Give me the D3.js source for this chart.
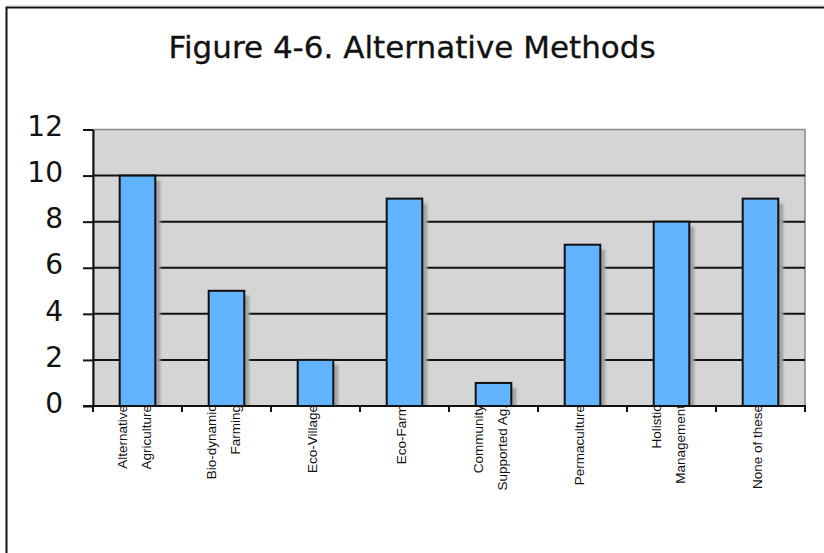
<!DOCTYPE html>
<html>
<head>
<meta charset="utf-8">
<script src="https://cdn.jsdelivr.net/npm/d3@7/dist/d3.min.js"></script>
<style>
  html, body { margin: 0; padding: 0; background: #ffffff; }
  svg { display: block; }
</style>
</head>
<body>
<svg id="chart" width="824" height="553"></svg>
<script>
// Survey counts: alternative farming methods respondents knew about
const categories = [
  "Alternative Agriculture",
  "Bio-dynamic Farming",
  "Eco-Village",
  "Eco-Farm",
  "Community Supported Ag.",
  "Permaculture",
  "Holistic Management",
  "None of these"
];
// Wrapped label lines for each category
const labelLines = [
  ["Alternative", "Agriculture"],
  ["Bio-dynamic", "Farming"],
  ["Eco-Village"],
  ["Eco-Farm"],
  ["Community", "Supported Ag."],
  ["Permaculture"],
  ["Holistic", "Management"],
  ["None of these"]
];
const counts = [10, 5, 2, 9, 1, 7, 8, 9];
const yTicks = [0, 2, 4, 6, 8, 10, 12];
const titleText = "Figure 4-6. Alternative Methods";

const svg = d3.select("#chart");

// Outer frame (left and top edges visible)
svg.append("rect")
  .attr("x", 6.5).attr("y", 7.5)
  .attr("width", 900).attr("height", 700)
  .attr("fill", "none")
  .attr("stroke", "#111").attr("stroke-width", 2);
svg.append("line")
  .attr("x1", 6).attr("x2", 824).attr("y1", 6.2).attr("y2", 6.2)
  .attr("stroke", "#9a9a9a").attr("stroke-width", 1);

const plot = { left: 93, right: 805, top: 129.5, bottom: 406 };

const x = d3.scaleBand()
  .domain(categories)
  .range([plot.left, plot.right])
  .paddingInner(0.6)
  .paddingOuter(0.3);

const xEdges = d3.scaleLinear()
  .domain([0, categories.length])
  .range([plot.left, plot.right]);

const y = d3.scaleLinear()
  .domain([0, 12])
  .range([plot.bottom, plot.top]);

// Title
svg.append("text")
  .attr("x", 412).attr("y", 58)
  .attr("text-anchor", "middle")
  .attr("font-family", "'DejaVu Sans', sans-serif")
  .attr("font-size", 31)
  .attr("fill", "#111")
  .attr("stroke", "#111")
  .attr("stroke-width", 0.3)
  .text(titleText);

// Plot background
svg.append("rect")
  .attr("x", plot.left).attr("y", plot.top)
  .attr("width", plot.right - plot.left)
  .attr("height", plot.bottom - plot.top)
  .attr("fill", "#d5d5d5")
  .attr("stroke", "#8a8a8a")
  .attr("stroke-width", 1.5);

// Horizontal gridlines
svg.append("g")
  .selectAll("line")
  .data(yTicks.filter(t => t > 0 && t < 12))
  .join("line")
  .attr("x1", plot.left).attr("x2", plot.right)
  .attr("y1", d => y(d)).attr("y2", d => y(d))
  .attr("stroke", "#111").attr("stroke-width", 2);

// Drop shadows behind bars
const defs = svg.append("defs");
defs.append("filter").attr("id", "soft")
  .attr("x", "-20%").attr("y", "-20%").attr("width", "140%").attr("height", "140%")
  .append("feGaussianBlur").attr("stdDeviation", 0.8);
defs.append("clipPath").attr("id", "plotClip")
  .append("rect")
  .attr("x", plot.left).attr("y", plot.top)
  .attr("width", plot.right - plot.left)
  .attr("height", plot.bottom - plot.top);

svg.append("g")
  .attr("clip-path", "url(#plotClip)")
  .selectAll("rect")
  .data(categories)
  .join("rect")
  .attr("x", d => x(d) + 5)
  .attr("y", (d, i) => y(counts[i]) + 5)
  .attr("width", x.bandwidth())
  .attr("height", (d, i) => y(0) - y(counts[i]))
  .attr("fill", "#a3a3a3")
  .attr("filter", "url(#soft)");

// Bars
svg.append("g")
  .selectAll("rect")
  .data(categories)
  .join("rect")
  .attr("x", d => x(d))
  .attr("y", (d, i) => y(counts[i]))
  .attr("width", x.bandwidth())
  .attr("height", (d, i) => y(0) - y(counts[i]))
  .attr("fill", "#62b4ff")
  .attr("stroke", "#111")
  .attr("stroke-width", 2);

// Y axis
const yAxis = svg.append("g")
  .attr("transform", `translate(${plot.left},0)`)
  .call(d3.axisLeft(y).tickValues(yTicks).tickSize(10).tickSizeOuter(0).tickPadding(20));
yAxis.select(".domain").attr("stroke", "#111").attr("stroke-width", 2);
yAxis.selectAll(".tick line").attr("stroke", "#111").attr("stroke-width", 2);
yAxis.selectAll(".tick text")
  .attr("font-family", "'DejaVu Sans', sans-serif")
  .attr("font-size", 28)
  .attr("fill", "#111")
  .attr("dy", "0.22em");

// X axis line and category boundary ticks
svg.append("line")
  .attr("x1", plot.left - 10).attr("x2", plot.right + 1)
  .attr("y1", plot.bottom).attr("y2", plot.bottom)
  .attr("stroke", "#111").attr("stroke-width", 2);
svg.append("g")
  .selectAll("line")
  .data(d3.range(categories.length + 1))
  .join("line")
  .attr("x1", d => xEdges(d)).attr("x2", d => xEdges(d))
  .attr("y1", plot.bottom).attr("y2", plot.bottom + 6)
  .attr("stroke", "#111").attr("stroke-width", 2);

// Rotated category labels
const labels = svg.append("g")
  .selectAll("g")
  .data(categories)
  .join("g")
  .attr("transform", d => `translate(${x(d) + x.bandwidth() / 2 + 1.5},405) rotate(-90)`);
labels.each(function (d, i) {
  const lines = labelLines[i];
  const n = lines.length;
  d3.select(this).selectAll("text")
    .data(lines)
    .join("text")
    .attr("x", 0)
    .attr("y", (t, j) => (j - (n - 1) / 2) * 24)
    .attr("text-anchor", "end")
    .attr("font-family", "'Liberation Sans', Arial, sans-serif")
    .attr("font-size", 13.5)
    .attr("fill", "#111")
    .text(t => t);
});
</script>
</body>
</html>
